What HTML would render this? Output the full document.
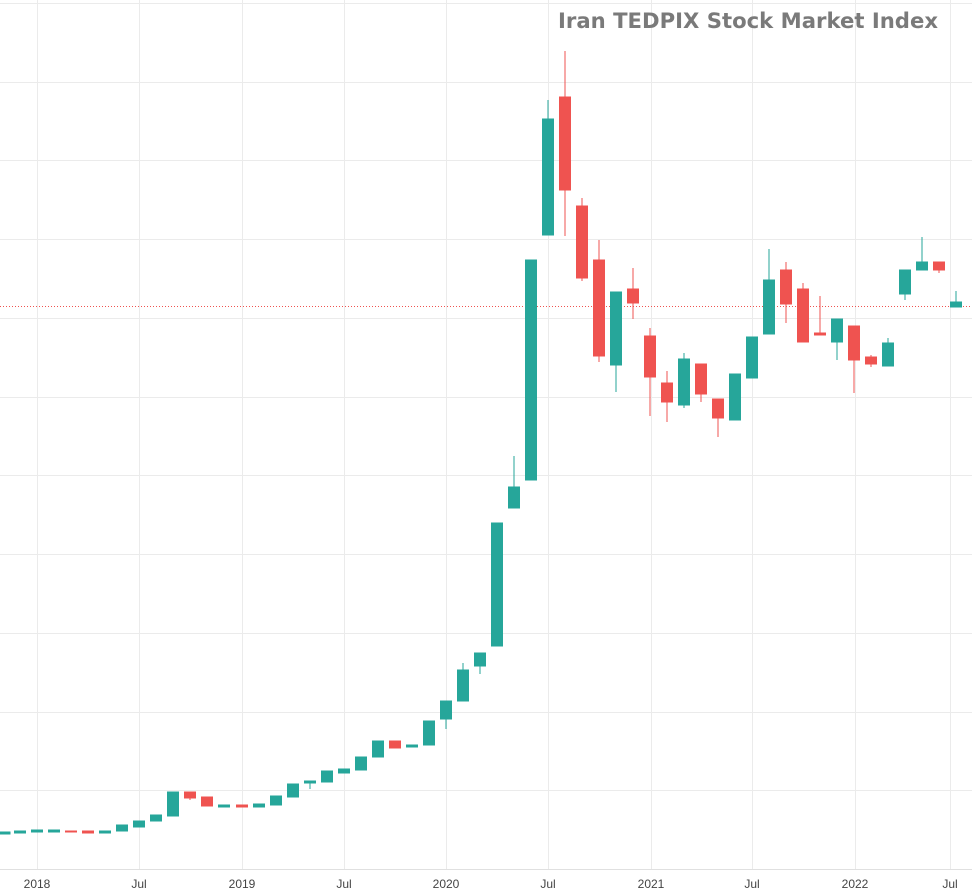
<!DOCTYPE html>
<html><head><meta charset="utf-8"><style>
html,body{margin:0;padding:0;background:#fff;}
svg{display:block;}
text{font-family:"Liberation Sans",sans-serif;}
</style></head><body>
<svg width="972" height="895" viewBox="0 0 972 895" xmlns="http://www.w3.org/2000/svg">
<g stroke="#ebebeb" stroke-width="1">
<line x1="0" y1="3.5" x2="972" y2="3.5"/>
<line x1="0" y1="82.5" x2="972" y2="82.5"/>
<line x1="0" y1="160.5" x2="972" y2="160.5"/>
<line x1="0" y1="239.5" x2="972" y2="239.5"/>
<line x1="0" y1="318.5" x2="972" y2="318.5"/>
<line x1="0" y1="397.5" x2="972" y2="397.5"/>
<line x1="0" y1="475.5" x2="972" y2="475.5"/>
<line x1="0" y1="554.5" x2="972" y2="554.5"/>
<line x1="0" y1="633.5" x2="972" y2="633.5"/>
<line x1="0" y1="712.5" x2="972" y2="712.5"/>
<line x1="0" y1="790.5" x2="972" y2="790.5"/>
<line x1="37.5" y1="0" x2="37.5" y2="869"/>
<line x1="139.5" y1="0" x2="139.5" y2="869"/>
<line x1="242.5" y1="0" x2="242.5" y2="869"/>
<line x1="344.5" y1="0" x2="344.5" y2="869"/>
<line x1="446.5" y1="0" x2="446.5" y2="869"/>
<line x1="548.5" y1="0" x2="548.5" y2="869"/>
<line x1="651.5" y1="0" x2="651.5" y2="869"/>
<line x1="752.5" y1="0" x2="752.5" y2="869"/>
<line x1="855.5" y1="0" x2="855.5" y2="869"/>
<line x1="950.5" y1="0" x2="950.5" y2="869"/>
</g>
<line x1="0" y1="869.5" x2="972" y2="869.5" stroke="#e0e0e0" stroke-width="1"/>
<line x1="0" y1="306.5" x2="972" y2="306.5" stroke="#ef5350" stroke-width="1" stroke-dasharray="1,2"/>
<g font-size="12" fill="#444" text-anchor="middle">
<text x="37" y="888">2018</text>
<text x="139" y="888">Jul</text>
<text x="242" y="888">2019</text>
<text x="344" y="888">Jul</text>
<text x="446" y="888">2020</text>
<text x="548" y="888">Jul</text>
<text x="651" y="888">2021</text>
<text x="752" y="888">Jul</text>
<text x="855" y="888">2022</text>
<text x="950" y="888">Jul</text>
</g>
<text x="558" y="28" textLength="380" lengthAdjust="spacingAndGlyphs" font-size="21" font-weight="bold" fill="#7a7a7a" style="font-family:'DejaVu Sans','Liberation Sans',sans-serif">Iran TEDPIX Stock Market Index</text>
<g fill="#26a69a" stroke="#26a69a" stroke-width="1">
<rect x="0" y="832" width="10" height="2"/>
<rect x="14.5" y="831" width="11" height="2"/>
<rect x="31.5" y="830" width="11" height="2"/>
<rect x="48.5" y="830" width="11" height="2"/>
<rect x="99.5" y="831" width="11" height="2"/>
<rect x="116.5" y="825" width="11" height="6"/>
<rect x="133.5" y="821" width="11" height="6"/>
<rect x="150.5" y="815" width="11" height="6"/>
<rect x="167.5" y="792" width="11" height="24"/>
<rect x="218.5" y="805" width="11" height="2"/>
<rect x="253.5" y="804" width="11" height="3"/>
<rect x="270.5" y="796" width="11" height="9"/>
<rect x="287.5" y="784" width="11" height="13"/>
<line x1="310" y1="781" x2="310" y2="789"/><rect x="304.5" y="781" width="11" height="2"/>
<rect x="321.5" y="771" width="11" height="11"/>
<rect x="338.5" y="769" width="11" height="4"/>
<rect x="355.5" y="757" width="11" height="13"/>
<rect x="372.5" y="741" width="11" height="16"/>
<rect x="406.5" y="745" width="11" height="2"/>
<rect x="423.5" y="721" width="11" height="24"/>
<line x1="446" y1="701" x2="446" y2="729"/><rect x="440.5" y="701" width="11" height="18"/>
<line x1="463" y1="663" x2="463" y2="701"/><rect x="457.5" y="670" width="11" height="31"/>
<line x1="480" y1="653" x2="480" y2="674"/><rect x="474.5" y="653" width="11" height="13"/>
<rect x="491.5" y="523" width="11" height="123"/>
<line x1="514" y1="456" x2="514" y2="508"/><rect x="508.5" y="487" width="11" height="21"/>
<rect x="525.5" y="260" width="11" height="220"/>
<line x1="548" y1="100" x2="548" y2="235"/><rect x="542.5" y="119" width="11" height="116"/>
<line x1="616" y1="292" x2="616" y2="392"/><rect x="610.5" y="292" width="11" height="73"/>
<line x1="684" y1="353" x2="684" y2="408"/><rect x="678.5" y="359" width="11" height="46"/>
<rect x="729.5" y="374" width="11" height="46"/>
<rect x="746.5" y="337" width="11" height="41"/>
<line x1="769" y1="249" x2="769" y2="334"/><rect x="763.5" y="280" width="11" height="54"/>
<line x1="837" y1="319" x2="837" y2="360"/><rect x="831.5" y="319" width="11" height="23"/>
<line x1="888" y1="338" x2="888" y2="366"/><rect x="882.5" y="343" width="11" height="23"/>
<line x1="905" y1="270" x2="905" y2="300"/><rect x="899.5" y="270" width="11" height="24"/>
<line x1="922" y1="237" x2="922" y2="270"/><rect x="916.5" y="262" width="11" height="8"/>
<line x1="956" y1="291" x2="956" y2="307"/><rect x="950.5" y="302" width="11" height="5"/>
</g>
<g fill="#ef5350" stroke="#ef5350" stroke-width="1">
<rect x="65.5" y="831" width="11" height="1"/>
<rect x="82.5" y="831" width="11" height="2"/>
<line x1="190" y1="792" x2="190" y2="800"/><rect x="184.5" y="792" width="11" height="6"/>
<rect x="201.5" y="797" width="11" height="9"/>
<rect x="236.5" y="805" width="11" height="2"/>
<rect x="389.5" y="741" width="11" height="7"/>
<line x1="565" y1="51" x2="565" y2="236"/><rect x="559.5" y="97" width="11" height="93"/>
<line x1="582" y1="198" x2="582" y2="281"/><rect x="576.5" y="206" width="11" height="72"/>
<line x1="599" y1="240" x2="599" y2="362"/><rect x="593.5" y="260" width="11" height="96"/>
<line x1="633" y1="268" x2="633" y2="319"/><rect x="627.5" y="289" width="11" height="14"/>
<line x1="650" y1="328" x2="650" y2="416"/><rect x="644.5" y="336" width="11" height="41"/>
<line x1="667" y1="371" x2="667" y2="422"/><rect x="661.5" y="383" width="11" height="19"/>
<line x1="701" y1="364" x2="701" y2="402"/><rect x="695.5" y="364" width="11" height="30"/>
<line x1="718" y1="399" x2="718" y2="437"/><rect x="712.5" y="399" width="11" height="19"/>
<line x1="786" y1="262" x2="786" y2="323"/><rect x="780.5" y="270" width="11" height="34"/>
<line x1="803" y1="283" x2="803" y2="342"/><rect x="797.5" y="289" width="11" height="53"/>
<line x1="820" y1="296" x2="820" y2="335"/><rect x="814.5" y="333" width="11" height="2"/>
<line x1="854" y1="326" x2="854" y2="393"/><rect x="848.5" y="326" width="11" height="34"/>
<line x1="871" y1="355" x2="871" y2="367"/><rect x="865.5" y="357" width="11" height="7"/>
<line x1="939" y1="262" x2="939" y2="273"/><rect x="933.5" y="262" width="11" height="8"/>
</g>
</svg>
</body></html>
